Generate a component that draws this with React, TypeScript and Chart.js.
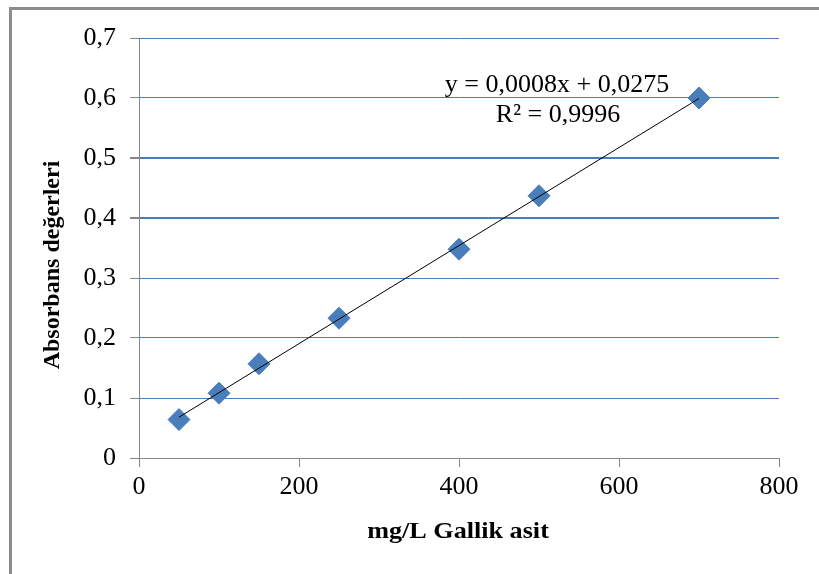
import React, { useEffect, useRef } from "react";
import { Chart, registerables } from "chart.js";

Chart.register(...registerables);

const concentrations = [50, 100, 150, 250, 400, 500, 700];
const absorbances = [0.064, 0.108, 0.157, 0.233, 0.348, 0.437, 0.6];
const yTickValues = [0, 0.1, 0.2, 0.3, 0.4, 0.5, 0.6, 0.7];
const xTickValues = [0, 200, 400, 600, 800];
const equationText = "y = 0,0008x + 0,0275";
const r2Text = "R² = 0,9996";
const xTitle = "mg/L Gallik asit";
const yTitle = "Absorbans değerleri";

function fit(xs: number[], ys: number[]) {
  const n = xs.length;
  const mx = xs.reduce((a, b) => a + b, 0) / n;
  const my = ys.reduce((a, b) => a + b, 0) / n;
  let sxy = 0, sxx = 0;
  for (let i = 0; i < n; i++) {
    sxy += (xs[i] - mx) * (ys[i] - my);
    sxx += (xs[i] - mx) * (xs[i] - mx);
  }
  const m = sxy / sxx;
  return { m, b: my - m * mx };
}

const fmt = (v: number) => String(v).replace(".", ",");

export default function App() {
  const ref = useRef<HTMLCanvasElement | null>(null);
  useEffect(() => {
    const canvas = ref.current!;
    const { m, b } = fit(concentrations, absorbances);
    const xMin = Math.min(...concentrations);
    const xMax = Math.max(...concentrations);
    const trend = [
      { x: xMin, y: m * xMin + b },
      { x: xMax, y: m * xMax + b },
    ];
    const gray = "#868686";
    const blue = "#4a7ebb";
    const overlay = {
      id: "overlay",
      beforeDraw(chart: any) {
        const c = chart.ctx;
        c.save();
        c.fillStyle = "#fff";
        c.fillRect(0, 0, chart.width, chart.height);
        c.fillStyle = "#8c8c8c";
        c.fillRect(9, 7, chart.width - 9, 3);
        c.fillRect(9, 7, 3, chart.height - 7);
        c.restore();
      },
      afterDraw(chart: any) {
        const c = chart.ctx;
        c.save();
        c.fillStyle = "#000";
        c.textAlign = "center";
        c.textBaseline = "alphabetic";
        c.font = "26px 'Liberation Serif'";
        c.fillText(equationText, 557, 92);
        c.fillText(r2Text, 558, 122);
        c.save();
        c.font = "bold 24px 'Liberation Serif'";
        c.translate(458, 538);
        c.scale(1.09, 1);
        c.fillText(xTitle, 0, 0);
        c.restore();
        c.font = "bold 24px 'Liberation Serif'";
        c.translate(59, 265);
        c.rotate(-Math.PI / 2);
        c.fillText(yTitle, 0, 0);
        c.restore();
      },
    };
    const chart = new Chart(canvas, {
      type: "scatter",
      data: {
        datasets: [
          {
            data: trend,
            showLine: true,
            borderColor: "#000",
            borderWidth: 1,
            pointRadius: 0,
            order: 0,
          },
          {
            data: concentrations.map((x, i) => ({ x, y: absorbances[i] })),
            pointStyle: "rectRot",
            pointRadius: 11,
            backgroundColor: blue,
            borderColor: blue,
            borderWidth: 1,
            order: 1,
          },
        ],
      },
      options: {
        responsive: false,
        animation: false,
        layout: { padding: { left: 0, top: 38, right: 40, bottom: 0 } },
        plugins: { legend: { display: false }, tooltip: { enabled: false } },
        scales: {
          x: {
            type: "linear",
            min: 0,
            max: 800,
            afterBuildTicks: (s: any) => {
              s.ticks = xTickValues.map((v) => ({ value: v }));
            },
            afterFit: (s: any) => {
              s.height = 116;
            },
            ticks: {
              font: { family: "'Liberation Serif'", size: 26 },
              color: "#000",
              padding: 5,
              callback: (v: any) => fmt(v),
            },
            grid: {
              drawOnChartArea: false,
              drawTicks: true,
              tickLength: 9,
              tickColor: gray,
            },
            border: { color: gray, width: 1 },
          },
          y: {
            type: "linear",
            min: 0,
            max: 0.7,
            afterBuildTicks: (s: any) => {
              s.ticks = yTickValues.map((v) => ({ value: v }));
            },
            afterFit: (s: any) => {
              s.width = 139;
            },
            ticks: {
              font: { family: "'Liberation Serif'", size: 26 },
              color: "#000",
              padding: 14,
              callback: (v: any) => fmt(Math.round(v * 10) / 10),
            },
            grid: {
              color: (ctx: any) =>
                ctx.tick && ctx.tick.value === 0 ? "rgba(0,0,0,0)" : blue,
              lineWidth: (ctx: any) =>
                ctx.tick && (Math.abs(ctx.tick.value - 0.4) < 1e-6 || Math.abs(ctx.tick.value - 0.5) < 1e-6) ? 2 : 1,
              tickColor: gray,
              tickLength: 9,
            },
            border: { color: gray, width: 1 },
          },
        },
      },
      plugins: [overlay],
    } as any);
    return () => chart.destroy();
  }, []);
  return (
    <div style={{ position: "fixed", left: 0, top: 0, width: 819, height: 574 }}>
      <canvas ref={ref} width={819} height={574} style={{ width: 819, height: 574 }} />
    </div>
  );
}
